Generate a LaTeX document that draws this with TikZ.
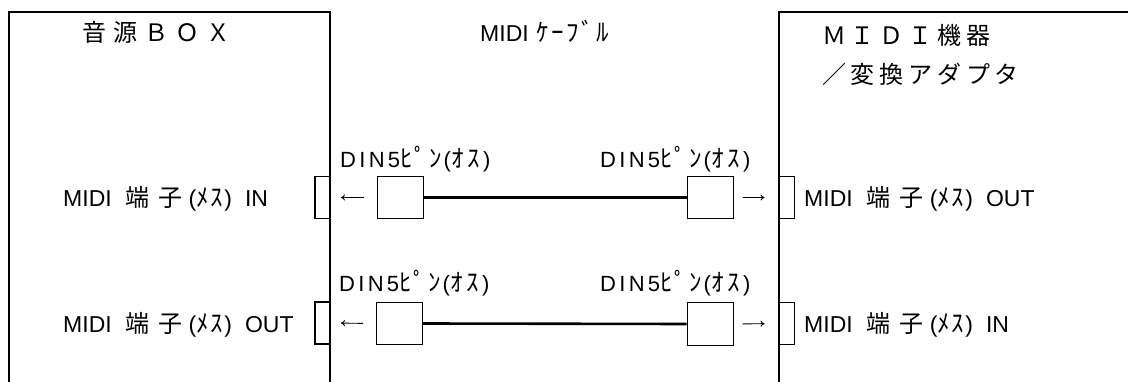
\documentclass[tikz,border=0pt]{standalone}
\usepackage{fontspec}
\usetikzlibrary{arrows.meta}
\newfontfamily\lat{Liberation Sans}
\newfontfamily\latD[LetterSpace=15]{Liberation Sans}
\newfontfamily\jp{Noto Sans CJK JP}
\newfontfamily\jpT[LetterSpace=30]{Noto Sans CJK JP}
\newfontfamily\jpR[LetterSpace=20]{Noto Sans CJK JP}
\newlength\chp
\newcommand\ch[1]{\makebox[\chp][l]{#1}}
\newcommand\kana{\fontsize{25pt}{25pt}\selectfont\jp}
\newcommand\dinlabel{{\fontsize{22pt}{22pt}\selectfont\latD DIN5{\kana\setlength\chp{14.5pt}\ch{ﾋ}\ch{ﾟ}\ch{ﾝ}}\latD({\kana\setlength\chp{16pt}\ch{ｵ}\ch{ｽ}}\latD)}}
\newcommand\sidelabel[1]{{\fontsize{23pt}{23pt}\selectfont\lat MIDI\hspace{14pt}{\fontsize{24pt}{24pt}\selectfont\jp\setlength\chp{33pt}\ch{端}\ch{子}}\hspace{-3pt}\lat({\kana\setlength\chp{14pt}\ch{ﾒ}\ch{ｽ}}\lat)\hspace{13pt}#1}}
\begin{document}
\begin{tikzpicture}[x=1pt,y=-1pt,
  frame/.style={line width=1.4pt},
  port/.style={draw,line width=1.9pt,minimum width=15pt,minimum height=42pt,inner sep=0pt},
  plug/.style={draw,line width=1pt,minimum width=46pt,minimum height=42pt,inner sep=0pt},
  cable/.style={line width=2.6pt},
  arr/.style={line width=0.9pt,-{To[length=4pt,width=6pt]}},
  lbl/.style={inner sep=0pt,anchor=base west}]
\useasboundingbox (0,0) rectangle (1128,382);
% boxes
\draw[frame] (9,382) -- (9,12) -- (330,12) -- (330,382);
\draw[frame] (1128,12) -- (779,12) -- (779,382);
% titles
\node[lbl] (t1) at (82,42) {\fontsize{24pt}{24pt}\selectfont\jpT 音源ＢＯＸ};
\node[lbl] (t2) at (480,42) {\fontsize{23pt}{23pt}\selectfont\lat MIDI\hspace{8pt}{\kana\setlength\chp{15pt}\ch{ｹ}\ch{ｰ}\ch{ﾌ}\ch{ﾞ}\ch{ﾙ}}};
\node[lbl] (t3) at (822,45) {\fontsize{24pt}{24pt}\selectfont\jpR ＭＩＤＩ機器};
\node[lbl] (t4) at (822,84) {\fontsize{24pt}{24pt}\selectfont\jpR ／変換アダプタ};
% ports
\node[port] (pL1) at (322.5,197.5) {};
\node[port] (pL2) at (322.5,323) {};
\node[port] (pR1) at (787,197.5) {};
\node[port] (pR2) at (787,323.5) {};
% plugs
\node[plug] (gL1) at (400,197.5) {};
\node[plug] (gR1) at (710,197.5) {};
\node[plug] (gL2) at (399.5,323.5) {};
\node[plug] (gR2) at (710,324) {};
% cables
\draw[cable] (gL1.east) -- (gR1.west);
\draw[cable] (gL2.east) -- (gR2.west);
% arrows
\draw[arr,shorten <=13pt,shorten >=10pt] (gL1.west) -- (pL1.east);
\draw[arr,shorten <=13pt,shorten >=10pt] (gL2.west) -- (pL2.east);
\draw[arr,shorten <=9pt,shorten >=14pt] (gR1.east) -- (pR1.west);
\draw[arr,shorten <=9pt,shorten >=14pt] (gR2.east) -- (pR2.west);
% connector labels
\node[lbl] (d1) at (340,168) {\dinlabel};
\node[lbl] (d2) at (600,168) {\dinlabel};
\node[lbl] (d3) at (339,292) {\dinlabel};
\node[lbl] (d4) at (600,292) {\dinlabel};
% side labels
\node[lbl] (s1) at (63,207) {\sidelabel{IN}};
\node[lbl] (s2) at (63,332) {\sidelabel{OUT}};
\node[lbl] (s3) at (804,207) {\sidelabel{OUT}};
\node[lbl] (s4) at (804,332) {\sidelabel{IN}};
\end{tikzpicture}
\end{document}
